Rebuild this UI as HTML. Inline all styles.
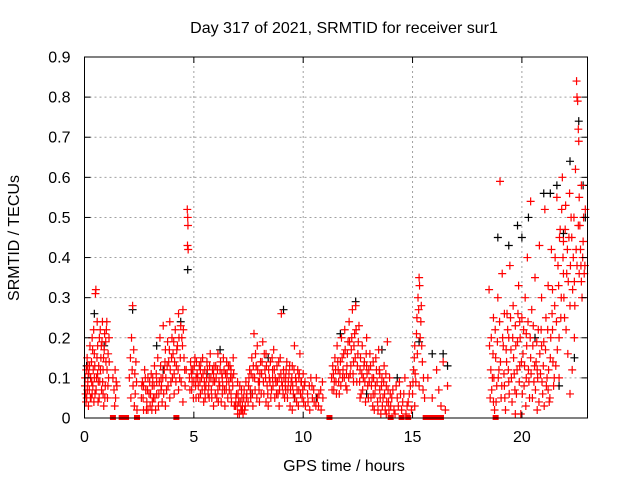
<!DOCTYPE html>
<html><head><meta charset="utf-8"><style>
body{margin:0;background:#fff;}
svg{display:block;font-family:"Liberation Sans",sans-serif;}
</style></head><body>
<svg id="chart" width="640" height="480" viewBox="0 0 640 480" xmlns="http://www.w3.org/2000/svg">
<rect width="640" height="480" fill="#fff"/>
<text x="344" y="33" font-size="16" text-anchor="middle">Day 317 of 2021, SRMTID for receiver sur1</text>
<text x="344" y="471" font-size="16" text-anchor="middle">GPS time / hours</text>
<text x="19" y="238" font-size="16" text-anchor="middle" transform="rotate(-90 19 238)">SRMTID / TECUs</text>
<g id="grid"></g>
<g id="black"></g>
<g id="red"></g>
<g id="axes"></g>
</svg>
<script>
const xTicks=[0,5,10,15,20];
const yTicks=[0,0.1,0.2,0.3,0.4,0.5,0.6,0.7,0.8,0.9];
const yTickLabels=["0","0.1","0.2","0.3","0.4","0.5","0.6","0.7","0.8","0.9"];
const redPoints=[
[0.02,0.08],[0.05,0.06],[0.08,0.12],[0.1,0.05],[0.12,0.15],[0.15,0.09],[0.18,0.03],[0.2,0.11],[0.22,0.07],[0.25,0.18],[0.28,0.1],[0.3,0.05],[0.32,0.14],[0.35,0.2],[0.38,0.08],[0.4,0.12],[0.42,0.22],[0.45,0.16],[0.48,0.06],[0.5,0.31],[0.52,0.32],[0.55,0.1],[0.58,0.24],[0.6,0.18],[0.62,0.04],[0.65,0.13],[0.68,0.2],[0.7,0.09],[0.72,0.22],[0.75,0.15],[0.78,0.07],[0.8,0.19],[0.82,0.24],[0.85,0.12],[0.88,0.03],[0.9,0.17],[0.92,0.21],[0.95,0.08],[0.98,0.14],[1.0,0.22],[1.02,0.24],[1.05,0.05],[1.08,0.16],[1.1,0.1],[1.12,0.2],[0.15,0.13],[0.35,0.06],[0.6,0.11],[0.85,0.06],[0.45,0.1],
[1.3,0.1],[1.35,0.07],[1.4,0.12],[1.42,0.05],[1.45,0.09],[1.38,0.03],[1.48,0.08],
[2.05,0.1],[2.1,0.15],[2.12,0.05],[2.15,0.2],[2.18,0.12],[2.2,0.28],[2.22,0.08],[2.25,0.17],[2.28,0.03],[2.3,0.11],[2.32,0.06],[2.35,0.14],[2.38,0.09],[2.4,0.02],
[2.6,0.05],[2.65,0.09],[2.7,0.02],[2.75,0.12],[2.8,0.07],[2.85,0.04],[2.9,0.1],[2.95,0.06],[3.0,0.03],[3.05,0.11],[3.1,0.08],[3.15,0.05],[3.2,0.13],[3.25,0.02],[3.3,0.09],[3.35,0.15],[3.4,0.06],[3.45,0.2],[3.5,0.1],[3.55,0.04],[3.6,0.23],[3.65,0.12],[3.7,0.17],[3.75,0.07],[3.8,0.19],[3.85,0.14],[3.9,0.24],[3.95,0.09],[4.0,0.2],[4.05,0.16],[4.1,0.06],[4.15,0.22],[4.2,0.13],[4.25,0.18],[4.3,0.26],[4.35,0.1],[4.4,0.23],[4.45,0.2],[4.5,0.27],[4.55,0.15],[4.6,0.08],[4.65,0.12],[2.7,0.08],[2.9,0.02],[3.1,0.04],[3.3,0.06],[3.5,0.07],[3.7,0.03],[3.9,0.05],[4.1,0.11],[4.3,0.07],[4.5,0.04],
[4.7,0.52],[4.72,0.5],[4.73,0.48],[4.71,0.43],[4.74,0.42],
[4.8,0.1],[4.85,0.14],[4.9,0.07],[4.95,0.12],[5.0,0.09],[5.05,0.15],[5.1,0.05],[5.15,0.11],[5.2,0.08],[5.25,0.13],[5.3,0.06],[5.35,0.1],[5.4,0.15],[5.45,0.04],[5.5,0.12],[5.55,0.08],[5.6,0.14],[5.65,0.06],[5.7,0.1],[5.75,0.16],[5.8,0.07],[5.85,0.12],[5.9,0.03],[5.95,0.09],[6.0,0.13],[6.05,0.05],[6.1,0.16],[6.15,0.09],[6.2,0.12],[6.25,0.04],[6.3,0.1],[6.35,0.15],[6.4,0.07],[6.45,0.11],[6.5,0.14],[6.55,0.05],[6.6,0.09],[6.65,0.13],[6.7,0.06],[6.75,0.1],[6.8,0.15],[6.85,0.03],[4.9,0.11],[5.1,0.1],[5.3,0.12],[5.5,0.07],[5.7,0.05],[5.9,0.11],[6.1,0.07],[6.3,0.06],[6.5,0.09],[6.7,0.12],
[6.9,0.03],[6.95,0.06],[7.0,0.01],[7.05,0.04],[7.1,0.08],[7.15,0.02],[7.2,0.05],[7.25,0.01],[7.3,0.07],[7.35,0.03],[7.4,0.05],[7.0,0.09],[7.2,0.02],
[7.5,0.08],[7.55,0.12],[7.6,0.05],[7.65,0.15],[7.7,0.1],[7.75,0.21],[7.8,0.07],[7.85,0.13],[7.9,0.18],[7.95,0.09],[8.0,0.04],[8.05,0.14],[8.1,0.11],[8.15,0.19],[8.2,0.06],[8.25,0.12],[8.3,0.16],[8.35,0.08],[8.4,0.03],[8.45,0.1],[8.5,0.14],[8.55,0.07],[8.6,0.12],[8.65,0.17],[8.7,0.05],[8.75,0.09],[8.8,0.13],[8.85,0.06],[8.9,0.1],[8.95,0.15],[9.0,0.26],[9.05,0.08],[9.1,0.12],[9.15,0.05],[9.2,0.1],[9.25,0.14],[9.3,0.07],[9.35,0.11],[9.4,0.03],[9.45,0.09],[9.5,0.13],[9.55,0.06],[9.6,0.18],[9.65,0.1],[9.7,0.04],[9.75,0.12],[9.8,0.07],[9.85,0.16],[9.9,0.09],[9.95,0.05],[10.0,0.11],[10.05,0.08],[10.1,0.03],[7.7,0.03],[8.0,0.09],[8.3,0.04],[8.6,0.1],[8.9,0.03],[9.2,0.07],[9.5,0.02],[9.8,0.1],
[10.2,0.06],[10.3,0.02],[10.4,0.08],[10.5,0.04],[10.6,0.1],[10.7,0.03],[10.8,0.07],[10.9,0.05],[10.35,0.1],[10.65,0.05],
[11.3,0.1],[11.35,0.13],[11.4,0.07],[11.45,0.15],[11.5,0.09],[11.55,0.18],[11.6,0.12],[11.65,0.06],[11.7,0.14],[11.75,0.2],[11.8,0.1],[11.85,0.16],[11.9,0.22],[11.95,0.08],[12.0,0.13],[12.05,0.19],[12.1,0.24],[12.15,0.11],[12.2,0.17],[12.25,0.27],[12.3,0.14],[12.35,0.21],[12.4,0.28],[12.45,0.09],[12.5,0.16],[12.55,0.23],[12.6,0.12],[12.65,0.06],[12.7,0.18],[12.75,0.1],[12.8,0.14],[12.85,0.04],[12.9,0.2],[12.95,0.08],[13.0,0.12],[13.05,0.16],[13.1,0.05],[13.15,0.1],[13.2,0.14],[13.25,0.02],[13.3,0.08],[13.35,0.12],[13.4,0.04],[13.45,0.17],[13.5,0.07],[13.55,0.01],[13.6,0.1],[13.65,0.05],[13.7,0.13],[13.75,0.02],[13.8,0.08],[13.85,0.19],[13.9,0.04],[13.95,0.1],[12.0,0.07],[12.3,0.09],[12.6,0.05],[12.9,0.13],[13.2,0.06],[13.5,0.11],[13.8,0.01],
[14.0,0.03],[14.1,0.07],[14.2,0.01],[14.3,0.05],[14.4,0.09],[14.5,0.02],[14.6,0.06],[14.7,0.01],[14.8,0.04],[14.9,0.08],
[15.0,0.06],[15.05,0.12],[15.1,0.18],[15.15,0.09],[15.2,0.25],[15.25,0.3],[15.3,0.35],[15.32,0.33],[15.35,0.2],[15.4,0.28],[15.45,0.14],[15.5,0.1],[15.55,0.05],[15.1,0.03],[15.3,0.08],
[15.7,0.1],[15.9,0.05],[16.1,0.12],[16.2,0.07],[16.4,0.14],[16.5,0.02],[16.6,0.08],[16.3,0.03],
[18.5,0.32],[18.55,0.05],[18.6,0.2],[18.65,0.1],[18.7,0.25],[18.75,0.02],[18.8,0.15],[18.85,0.08],[18.9,0.3],[18.95,0.12],[19.0,0.59],[19.05,0.05],[19.1,0.36],[19.15,0.18],[19.2,0.26],[19.25,0.02],[19.3,0.14],[19.35,0.22],[19.4,0.09],[19.45,0.38],[19.5,0.17],[19.55,0.04],[19.6,0.28],[19.65,0.11],[19.7,0.23],[19.75,0.06],[19.8,0.19],[19.85,0.33],[19.9,0.13],[19.95,0.01],[20.0,0.25],[20.05,0.16],[20.1,0.08],[20.15,0.3],[20.2,0.21],[20.25,0.4],[20.3,0.12],[20.35,0.05],[20.4,0.54],[20.45,0.27],[20.5,0.18],[20.55,0.09],[20.6,0.35],[20.65,0.14],[20.7,0.02],[20.75,0.22],[20.8,0.43],[20.85,0.11],[20.9,0.3],[20.95,0.06],[21.0,0.19],[21.05,0.52],[21.1,0.25],[21.15,0.1],[21.2,0.33],[21.25,0.04],[21.3,0.15],[21.35,0.42],[21.4,0.22],[21.45,0.08],[21.5,0.28],[21.55,0.13],[21.6,0.55],[21.65,0.38],[21.7,0.2],[21.75,0.47],[21.8,0.3],[21.85,0.6],[21.9,0.44],[21.95,0.25],[22.0,0.53],[22.05,0.36],[22.1,0.16],[22.15,0.45],[22.2,0.28],[22.25,0.5],[22.3,0.12],[22.35,0.4],[22.4,0.2],[22.45,0.62],[22.5,0.84],[22.52,0.8],[22.55,0.79],[22.58,0.72],[22.6,0.69],[22.62,0.55],[22.65,0.48],[22.7,0.38],[22.72,0.58],[22.75,0.3],[22.8,0.44],[22.85,0.36],[22.9,0.52],[18.7,0.04],[19.2,0.08],[19.7,0.01],[20.2,0.1],[20.7,0.12],[21.2,0.07],[21.7,0.1],[22.2,0.06],[19.4,0.2],[19.9,0.24],[20.4,0.15],[20.9,0.18],[21.4,0.32],[21.9,0.36],[22.4,0.34]
];
const redPointsExtra=[
[0.03,0.1],[0.07,0.04],[0.13,0.07],[0.17,0.11],[0.23,0.13],[0.27,0.05],[0.33,0.09],[0.37,0.17],[0.43,0.04],[0.47,0.13],[0.53,0.07],[0.57,0.15],[0.63,0.09],[0.67,0.05],[0.73,0.12],[0.77,0.18],[0.83,0.09],[0.87,0.15],[0.93,0.05],[0.97,0.19],[1.03,0.12],[1.07,0.08],[1.13,0.14],
[2.62,0.08],[2.68,0.05],[2.78,0.1],[2.83,0.02],[2.88,0.07],[2.98,0.09],[3.02,0.06],[3.08,0.02],[3.12,0.1],[3.18,0.08],[3.22,0.05],[3.28,0.11],[3.38,0.03],[3.42,0.09],[3.48,0.13],[3.52,0.08],[3.58,0.1],[3.62,0.06],[3.68,0.14],[3.72,0.1],[3.78,0.13],[3.82,0.08],[3.88,0.17],[3.92,0.12],[3.98,0.15],[4.02,0.1],[4.08,0.19],[4.12,0.14],[4.18,0.09],[4.22,0.17],[4.28,0.12],[4.32,0.2],[4.38,0.15],[4.42,0.09],[4.48,0.18],[4.52,0.22],[4.58,0.12],
[4.82,0.07],[4.88,0.12],[4.92,0.09],[4.98,0.05],[5.02,0.13],[5.08,0.08],[5.12,0.14],[5.18,0.1],[5.22,0.05],[5.28,0.09],[5.32,0.14],[5.38,0.07],[5.42,0.11],[5.48,0.09],[5.52,0.05],[5.58,0.1],[5.62,0.12],[5.68,0.08],[5.72,0.13],[5.78,0.1],[5.82,0.05],[5.88,0.09],[5.92,0.13],[5.98,0.06],[6.02,0.1],[6.08,0.12],[6.12,0.04],[6.18,0.08],[6.22,0.14],[6.28,0.11],[6.32,0.08],[6.38,0.12],[6.42,0.03],[6.48,0.07],[6.52,0.11],[6.58,0.13],[6.62,0.07],[6.68,0.1],[6.72,0.04],[6.78,0.08],[6.82,0.11],
[6.92,0.05],[6.98,0.03],[7.02,0.06],[7.08,0.01],[7.12,0.04],[7.18,0.07],[7.22,0.03],[7.28,0.05],[7.32,0.02],[7.38,0.09],[7.42,0.06],[7.48,0.04],
[7.52,0.1],[7.58,0.07],[7.62,0.11],[7.68,0.06],[7.72,0.13],[7.78,0.1],[7.82,0.16],[7.88,0.05],[7.92,0.12],[7.98,0.07],[8.02,0.11],[8.08,0.06],[8.12,0.14],[8.18,0.09],[8.22,0.16],[8.28,0.1],[8.32,0.13],[8.38,0.06],[8.42,0.12],[8.48,0.09],[8.52,0.05],[8.58,0.15],[8.62,0.08],[8.68,0.12],[8.72,0.1],[8.78,0.06],[8.82,0.09],[8.88,0.14],[8.92,0.07],[8.98,0.11],[9.02,0.09],[9.08,0.06],[9.12,0.1],[9.18,0.08],[9.22,0.12],[9.28,0.05],[9.32,0.09],[9.38,0.13],[9.42,0.07],[9.48,0.1],[9.52,0.08],[9.58,0.12],[9.62,0.05],[9.68,0.09],[9.72,0.07],[9.78,0.03],[9.82,0.11],[9.88,0.06],[9.92,0.09],[9.98,0.07],[10.02,0.04],[10.08,0.09],
[10.22,0.04],[10.28,0.08],[10.42,0.05],[10.48,0.07],[10.58,0.03],[10.72,0.06],[10.82,0.02],[10.88,0.09],
[11.32,0.07],[11.38,0.11],[11.42,0.09],[11.48,0.12],[11.52,0.06],[11.58,0.14],[11.62,0.09],[11.68,0.11],[11.72,0.08],[11.78,0.15],[11.82,0.12],[11.88,0.1],[11.92,0.17],[11.98,0.11],[12.02,0.16],[12.08,0.1],[12.12,0.19],[12.18,0.13],[12.22,0.2],[12.28,0.11],[12.32,0.18],[12.38,0.15],[12.42,0.22],[12.48,0.13],[12.52,0.19],[12.58,0.09],[12.62,0.15],[12.68,0.11],[12.72,0.07],[12.78,0.13],[12.82,0.09],[12.88,0.16],[12.92,0.11],[12.98,0.05],[13.02,0.09],[13.08,0.13],[13.12,0.08],[13.18,0.03],[13.22,0.1],[13.28,0.06],[13.32,0.15],[13.38,0.09],[13.42,0.02],[13.48,0.12],[13.52,0.05],[13.58,0.08],[13.62,0.03],[13.68,0.09],[13.72,0.06],[13.78,0.11],[13.82,0.04],[13.88,0.07],[13.92,0.02],[13.98,0.06],
[14.05,0.05],[14.15,0.02],[14.25,0.08],[14.35,0.03],[14.45,0.06],[14.55,0.04],[14.65,0.1],[14.75,0.03],[14.85,0.06],[14.95,0.02],
[15.02,0.09],[15.08,0.15],[15.12,0.11],[15.18,0.21],[15.22,0.16],[15.28,0.27],[15.38,0.24],[15.42,0.18],[15.48,0.07],
[18.52,0.18],[18.58,0.12],[18.62,0.07],[18.68,0.16],[18.72,0.1],[18.78,0.22],[18.82,0.04],[18.88,0.19],[18.92,0.1],[18.98,0.24],[19.02,0.14],[19.08,0.08],[19.12,0.2],[19.18,0.11],[19.22,0.05],[19.28,0.17],[19.32,0.26],[19.38,0.12],[19.42,0.06],[19.48,0.25],[19.52,0.1],[19.58,0.2],[19.62,0.15],[19.68,0.07],[19.72,0.18],[19.78,0.12],[19.82,0.26],[19.88,0.09],[19.92,0.2],[19.98,0.14],[20.02,0.06],[20.08,0.22],[20.12,0.13],[20.18,0.03],[20.22,0.18],[20.28,0.24],[20.32,0.09],[20.38,0.2],[20.42,0.11],[20.48,0.05],[20.52,0.23],[20.58,0.13],[20.62,0.07],[20.68,0.19],[20.72,0.1],[20.78,0.04],[20.82,0.16],[20.88,0.22],[20.92,0.09],[20.98,0.13],[21.02,0.03],[21.08,0.17],[21.12,0.08],[21.18,0.22],[21.22,0.12],[21.28,0.05],[21.32,0.2],[21.38,0.26],[21.42,0.14],[21.48,0.1],[21.52,0.4],[21.58,0.24],[21.62,0.17],[21.68,0.33],[21.72,0.45],[21.78,0.25],[21.82,0.52],[21.88,0.4],[21.92,0.3],[21.98,0.47],[22.02,0.22],[22.08,0.42],[22.12,0.34],[22.18,0.56],[22.22,0.38],[22.28,0.45],[22.32,0.32],[22.38,0.5],[22.42,0.28],[22.48,0.42],[22.52,0.38],[22.58,0.48],[22.62,0.36],[22.68,0.42],[22.72,0.34],[22.78,0.4],[22.82,0.5],[22.88,0.38]
];
const blackPoints=[
[0.1,0.13],[0.45,0.26],[0.9,0.18],[2.2,0.27],[3.3,0.18],[3.6,0.12],[4.4,0.24],[4.72,0.37],[5.6,0.11],[6.2,0.17],[7.6,0.06],[8.4,0.15],[9.1,0.27],[9.6,0.05],[10.6,0.05],[11.7,0.21],[12.4,0.29],[12.9,0.06],[13.6,0.17],[14.3,0.1],[15.3,0.19],[15.9,0.16],[16.4,0.16],[16.6,0.13],[18.9,0.45],[19.4,0.43],[19.8,0.48],[20.0,0.45],[20.3,0.5],[20.6,0.2],[21.0,0.56],[21.3,0.56],[21.6,0.58],[21.9,0.46],[22.2,0.64],[22.6,0.74],[22.8,0.58],[22.9,0.5],[22.4,0.15],[21.7,0.08]
];
const zeroBoxes=[1.3,1.7,1.8,1.9,2.4,4.2,11.2,14.0,14.5,14.8,15.6,15.7,15.8,15.9,16.1,16.3,18.8];
const X0=84.5,X1=587.5,Y0=418,Y1=57,XMAX=23,YMAX=0.9;
const sx=t=>X0+(X1-X0)*t/XMAX, sy=v=>Y0-(Y0-Y1)*v/YMAX;
const NS="http://www.w3.org/2000/svg";
function mk(tag,attrs,parent){const e=document.createElementNS(NS,tag);for(const k in attrs)e.setAttribute(k,attrs[k]);parent.appendChild(e);return e;}
const grid=document.getElementById('grid'),axes=document.getElementById('axes');
xTicks.forEach(t=>{const x=sx(t);
 if(t>0){const l=mk('line',{x1:x,y1:Y0,x2:x,y2:Y1,stroke:'#a0a0a0','stroke-dasharray':'2,3'},grid);
 
 }
 const tk=mk('text',{x:x,y:Y0+24,'font-size':16,'text-anchor':'middle'},axes);tk.textContent=t;
 
 
 mk('line',{x1:x,y1:Y0,x2:x,y2:Y0-6,stroke:'#000'},axes);mk('line',{x1:x,y1:Y1,x2:x,y2:Y1+6,stroke:'#000'},axes);});
yTicks.forEach((v,i)=>{const y=sy(v);
 if(i>0&&i<yTicks.length-1){const l=mk('line',{x1:X0,y1:y,x2:X1,y2:y,stroke:'#a0a0a0','stroke-dasharray':'2,3'},grid);
 
 }
 const tk=mk('text',{x:X0-14,y:y+5.5,'font-size':16,'text-anchor':'end'},axes);tk.textContent=yTickLabels[i];
 
 
 mk('line',{x1:X0,y1:y,x2:X0+6,y2:y,stroke:'#000'},axes);mk('line',{x1:X1,y1:y,x2:X1-6,y2:y,stroke:'#000'},axes);});
const frame=mk('rect',{x:X0,y:Y1,width:X1-X0,height:Y0-Y1,fill:'none',stroke:'#000'},axes);


function plus(g,t,v,c){const x=sx(t),y=sy(v);
 const p=mk('path',{d:`M${x-4},${y}H${x+4}M${x},${y-4}V${y+4}`,stroke:c,'stroke-width':1.2,fill:'none'},g);return p;}
const bg=document.getElementById('black'),rg=document.getElementById('red');
blackPoints.forEach(p=>{const e=plus(bg,p[0],p[1],'#000');
 
 });
redPoints.concat(redPointsExtra).forEach(p=>{const e=plus(rg,p[0],p[1],'#ff0000');
 
 });
zeroBoxes.forEach(t=>{const r=mk('rect',{x:sx(t)-3,y:Y0-3,width:6,height:5,fill:'#ff0000'},rg);
 
 });
</script>
</body></html>
